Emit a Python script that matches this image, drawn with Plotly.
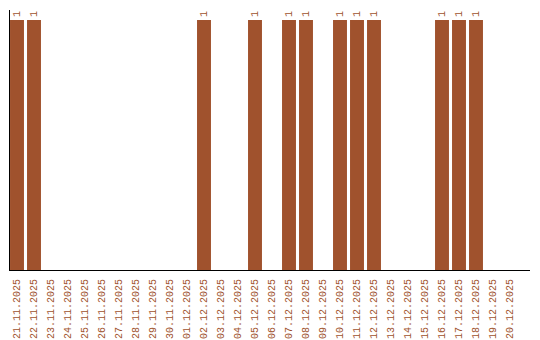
import plotly.graph_objects as go

dates = ["21.11.2025", "22.11.2025", "23.11.2025", "24.11.2025", "25.11.2025",
         "26.11.2025", "27.11.2025", "28.11.2025", "29.11.2025", "30.11.2025",
         "01.12.2025", "02.12.2025", "03.12.2025", "04.12.2025", "05.12.2025",
         "06.12.2025", "07.12.2025", "08.12.2025", "09.12.2025", "10.12.2025",
         "11.12.2025", "12.12.2025", "13.12.2025", "14.12.2025", "15.12.2025",
         "16.12.2025", "17.12.2025", "18.12.2025", "19.12.2025", "20.12.2025"]
values = [1, 1, 0, 0, 0, 0, 0, 0, 0, 0,
          0, 1, 0, 0, 1, 0, 1, 1, 0, 1,
          1, 1, 0, 0, 0, 1, 1, 1, 0, 0]

color = "#A0522D"
font_family = "Liberation Mono, DejaVu Sans Mono, monospace"

texts = [str(v) if v else "" for v in values]

fig = go.Figure(go.Bar(
    x=dates, y=values, text=texts, textposition="outside", textangle=-90,
    textfont=dict(family=font_family, size=10, color=color),
    marker=dict(color=color, line=dict(width=0)),
    width=0.82, cliponaxis=False, hoverinfo="skip",
))

fig.update_layout(
    width=540, height=340,
    margin=dict(l=10, r=10, t=10, b=70, autoexpand=False),
    paper_bgcolor="white", plot_bgcolor="white",
    showlegend=False,
    xaxis=dict(type="category", range=[-7/17, 29 + 20/17],
               showline=True, linecolor="black", linewidth=1,
               showgrid=False, zeroline=False, ticks="", automargin=False,
               tickangle=-90, ticklabelstandoff=4,
               tickfont=dict(family=font_family, size=10, color=color)),
    yaxis=dict(range=[0, 1.04], showline=True, linecolor="black", linewidth=1,
               showgrid=False, zeroline=False, showticklabels=False, ticks="",
               automargin=False),
)

fig.write_html("out.html", config={"displayModeBar": False})
